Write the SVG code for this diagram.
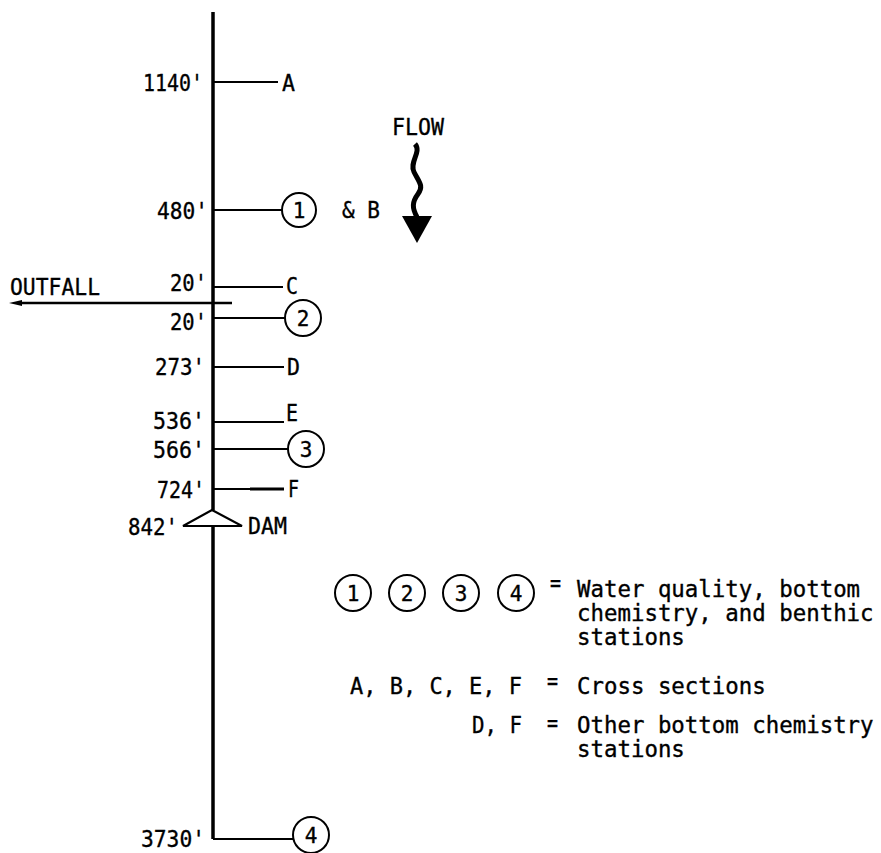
<svg xmlns="http://www.w3.org/2000/svg" width="881" height="853" viewBox="0 0 881 853">
<style>
text{font-family:"DejaVu Sans Mono","Liberation Mono",monospace;fill:#000;stroke:#000;stroke-width:0.35}
.lab{font-size:23px}
.num{font-size:21px;text-anchor:middle}
.leg{font-size:22.4px}
.ln{stroke:#000;stroke-width:2;fill:none}
.main{stroke:#000;stroke-width:3.5;fill:none}
.st{stroke:#000;stroke-width:2;fill:#fff}
</style>
<rect width="881" height="853" fill="#fff"/>
<g id="connectors">
<line class="main" x1="213" y1="12" x2="213" y2="510"/>
<line class="main" x1="213" y1="526" x2="213" y2="839"/>
<line class="ln" x1="213" y1="82" x2="278" y2="82"/>
<line class="ln" x1="213" y1="210" x2="282" y2="210"/>
<line class="ln" x1="213" y1="287" x2="283" y2="287"/>
<line class="ln" x1="213" y1="318" x2="285" y2="318"/>
<line class="ln" x1="213" y1="367" x2="284" y2="367"/>
<line class="ln" x1="213" y1="422" x2="284" y2="422"/>
<line class="ln" x1="213" y1="449" x2="288" y2="449"/>
<line class="ln" x1="213" y1="489" x2="284" y2="489"/>
<line stroke="#000" stroke-width="3" x1="250" y1="489" x2="284" y2="489"/>
<line class="ln" x1="213" y1="839" x2="293" y2="839"/>
<line stroke="#000" stroke-width="2.5" x1="232" y1="303" x2="18" y2="303"/>
<polygon points="9,303 22,300 22,306" fill="#000"/>
</g>
<g id="dam"><polygon class="st" stroke-width="3" points="212,510 183,526 242,526"/><text class="lab" x="128" y="535" textLength="50" lengthAdjust="spacingAndGlyphs">842'</text><text class="lab" x="248" y="534" textLength="39" lengthAdjust="spacingAndGlyphs">DAM</text></g>
<g id="flow"><text class="lab" x="392" y="135" textLength="52" lengthAdjust="spacingAndGlyphs">FLOW</text><path d="M415,144 C422,152 409,162 414,172 C419,182 424,186 418,194 C412,202 412,208 417,217" stroke="#000" stroke-width="5" fill="none"/><polygon points="402,216 432,216 417,243" fill="#000"/></g>
<g id="outfall"><text class="lab" x="10" y="295" textLength="90" lengthAdjust="spacingAndGlyphs">OUTFALL</text></g>
<g id="stA"><text class="lab" x="143" y="91" textLength="60" lengthAdjust="spacingAndGlyphs">1140'</text><text class="lab" x="282" y="91" textLength="13" lengthAdjust="spacingAndGlyphs">A</text></g>
<g id="st1"><text class="lab" x="157" y="219" textLength="51" lengthAdjust="spacingAndGlyphs">480'</text><circle class="st" cx="299" cy="210" r="17"/><text class="num" x="299" y="218">1</text><text class="lab" x="342" y="218" textLength="38" lengthAdjust="spacingAndGlyphs">&amp; B</text></g>
<g id="stC"><text class="lab" x="170" y="291" textLength="37" lengthAdjust="spacingAndGlyphs">20'</text><text class="lab" x="286" y="294" textLength="12" lengthAdjust="spacingAndGlyphs">C</text></g>
<g id="st2"><text class="lab" x="170" y="330" textLength="37" lengthAdjust="spacingAndGlyphs">20'</text><circle class="st" cx="303" cy="318" r="18"/><text class="num" x="303" y="326">2</text></g>
<g id="stD"><text class="lab" x="155" y="375" textLength="50" lengthAdjust="spacingAndGlyphs">273'</text><text class="lab" x="287" y="375" textLength="13" lengthAdjust="spacingAndGlyphs">D</text></g>
<g id="stE"><text class="lab" x="153" y="429" textLength="52" lengthAdjust="spacingAndGlyphs">536'</text><text class="lab" x="286" y="421" textLength="12" lengthAdjust="spacingAndGlyphs">E</text></g>
<g id="st3"><text class="lab" x="153" y="458" textLength="52" lengthAdjust="spacingAndGlyphs">566'</text><circle class="st" cx="306" cy="449" r="18"/><text class="num" x="306" y="457">3</text></g>
<g id="stF"><text class="lab" x="157" y="498" textLength="48" lengthAdjust="spacingAndGlyphs">724'</text><text class="lab" x="288" y="497" textLength="11" lengthAdjust="spacingAndGlyphs">F</text></g>
<g id="st4"><text class="lab" x="141" y="847" textLength="64" lengthAdjust="spacingAndGlyphs">3730'</text><circle class="st" cx="311" cy="835" r="18"/><text class="num" x="311" y="843">4</text></g>
<g id="legend">
<circle class="st" cx="353" cy="593" r="18"/><text class="num" x="353" y="601">1</text>
<circle class="st" cx="407" cy="593" r="18"/><text class="num" x="407" y="601">2</text>
<circle class="st" cx="461" cy="593" r="18"/><text class="num" x="461" y="601">3</text>
<circle class="st" cx="516" cy="593" r="18"/><text class="num" x="516" y="601">4</text>
<text class="leg" x="550" y="591" textLength="11" lengthAdjust="spacingAndGlyphs">=</text>
<text class="leg" x="577" y="597">Water quality, bottom</text>
<text class="leg" x="577" y="621">chemistry, and benthic</text>
<text class="leg" x="577" y="645">stations</text>
<text class="leg" x="350" y="694" textLength="172" lengthAdjust="spacingAndGlyphs">A, B, C, E, F</text>
<text class="leg" x="547" y="689" textLength="11" lengthAdjust="spacingAndGlyphs">=</text>
<text class="leg" x="577" y="694">Cross sections</text>
<text class="leg" x="472" y="733" textLength="50" lengthAdjust="spacingAndGlyphs">D, F</text>
<text class="leg" x="547" y="731" textLength="11" lengthAdjust="spacingAndGlyphs">=</text>
<text class="leg" x="577" y="733">Other bottom chemistry</text>
<text class="leg" x="577" y="757">stations</text>
</g>
</svg>
